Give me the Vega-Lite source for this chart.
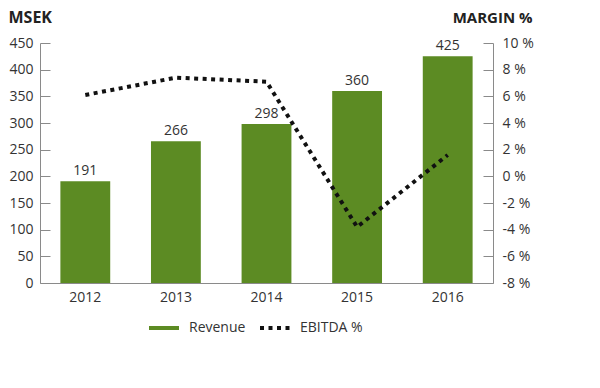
{
  "$schema": "https://vega.github.io/schema/vega-lite/v6.json",
  "width": 453,
  "height": 240,
  "padding": {"left": 8, "top": 9, "right": 0, "bottom": 0},
  "background": "white",
  "config": {
    "font": "Open Sans",
    "view": {"stroke": null},
    "axis": {"grid": false, "domainColor": "#8a8a8a", "tickColor": "#8a8a8a", "labelColor": "#333333", "labelFontSize": 14, "titleColor": "#222222"},
    "legend": {"labelColor": "#333333", "labelFontSize": 14}
  },
  "data": {
    "values": [
      {"year": "2012", "revenue": 191, "ebitda": 6.1},
      {"year": "2013", "revenue": 266, "ebitda": 7.4},
      {"year": "2014", "revenue": 298, "ebitda": 7.1},
      {"year": "2015", "revenue": 360, "ebitda": -3.8},
      {"year": "2016", "revenue": 425, "ebitda": 1.6}
    ]
  },
  "encoding": {
    "x": {
      "field": "year", "type": "ordinal",
      "scale": {"paddingInner": 0.45, "paddingOuter": 0.225},
      "axis": {"title": null, "labelAngle": 0, "ticks": false, "labelPadding": 7}
    }
  },
  "layer": [
    {
      "encoding": {
        "y": {
          "field": "revenue", "type": "quantitative",
          "scale": {"domain": [0, 450]},
          "axis": {
            "orient": "left", "values": [0, 50, 100, 150, 200, 250, 300, 350, 400, 450],
            "tickSize": -10, "labelPadding": 17,
            "title": "MSEK", "titleAngle": 0, "titleAlign": "left", "titleBaseline": "middle",
            "titleX": -32, "titleY": -26, "titleFontWeight": "bold", "titleFontSize": 16
          }
        }
      },
      "layer": [
        {
          "mark": {"type": "bar"},
          "encoding": {
            "color": {
              "datum": "Revenue", "type": "nominal",
              "scale": {"domain": ["Revenue", "EBITDA %"], "range": ["#5c8b23", "#111111"]},
              "legend": {"title": null, "orient": "none", "legendX": 107, "legendY": 268, "direction": "horizontal", "symbolType": "stroke", "symbolSize": 900, "symbolStrokeWidth": 4, "labelOffset": 8, "columnPadding": 6}
            }
          }
        },
        {
          "mark": {"type": "text", "baseline": "bottom", "dy": -3, "fontSize": 14, "color": "#333333"},
          "encoding": {"text": {"field": "revenue", "type": "quantitative"}}
        }
      ]
    },
    {
      "mark": {"type": "line", "strokeWidth": 4, "interpolate": "linear"},
      "encoding": {
        "y": {
          "field": "ebitda", "type": "quantitative",
          "scale": {"domain": [-8, 10]},
          "axis": {
            "orient": "right", "values": [-8, -6, -4, -2, 0, 2, 4, 6, 8, 10],
            "labelExpr": "datum.value + ' %'",
            "tickSize": -10, "labelPadding": 19,
            "title": "MARGIN %", "titleAngle": 0, "titleAlign": "right", "titleBaseline": "middle",
            "titleX": 39, "titleY": -26, "titleFontWeight": "bold", "titleFontSize": 15
          }
        },
        "color": {"datum": "EBITDA %", "type": "nominal"},
        "strokeDash": {
          "datum": "EBITDA %", "type": "nominal",
          "scale": {"domain": ["Revenue", "EBITDA %"], "range": [[1, 0], [4, 4.5]]},
          "legend": {"title": null}
        }
      }
    }
  ],
  "resolve": {"scale": {"y": "independent"}}
}
